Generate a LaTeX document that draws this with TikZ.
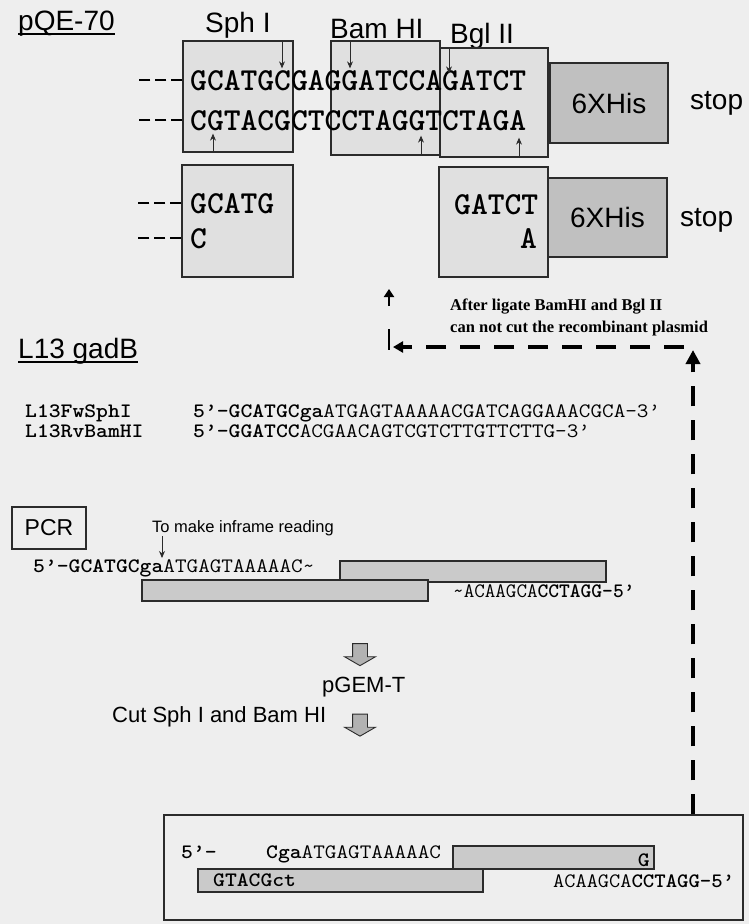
\documentclass[tikz,border=0pt]{standalone}
\usepackage{fontspec}
\setmainfont{Liberation Sans}
\newfontfamily\notefont{Liberation Serif}
\usetikzlibrary{arrows.meta,shapes.arrows}

\definecolor{paper}{HTML}{EEEEEE}
\definecolor{sitegray}{HTML}{E0E0E0}
\definecolor{hisgray}{HTML}{C0C0C0}
\definecolor{bargray}{HTML}{CACACA}
\definecolor{ink}{HTML}{2B2B2B}

\newcommand{\seqbig}{\ttfamily\bfseries\fontsize{32}{34}\selectfont}
\newcommand{\seqsmall}{\ttfamily\fontsize{20.5}{23}\selectfont}
\newcommand{\widen}[2][1.1]{\scalebox{#1}[1]{#2}}

\tikzset{
  sitebox/.style={draw=ink, line width=1.3pt, fill=sitegray, inner sep=0pt},
  hisbox/.style={draw=ink, line width=1.3pt, fill=hisgray, inner sep=0pt, font=\fontsize{28}{30}\selectfont},
  pcrbar/.style={draw=ink, line width=1.2pt, fill=bargray, inner sep=0pt},
  seqtop/.style={anchor=base west, inner sep=0pt, font=\seqbig},
  seqline/.style={anchor=base west, inner sep=0pt, font=\seqsmall},
  label/.style={anchor=base west, inner sep=0pt, font=\fontsize{28}{30}\selectfont},
  cutmark/.style={-{Stealth[length=7pt,width=6pt]}, line width=0.9pt, draw=ink},
  stub/.style={line width=2.2pt, dash pattern=on 11pt off 5pt},
  stepdown/.style={shape=single arrow, draw=ink, line width=0.9pt, fill=gray!60,
    shape border rotate=270, minimum height=22pt, single arrow head extend=8pt,
    single arrow tip angle=120, inner sep=7pt},
  backpath/.style={line width=4pt, dash pattern=on 20pt off 14pt}
}

\begin{document}
\begin{tikzpicture}[x=1pt, y=-1pt]
  \fill[paper] (0,0) rectangle (749,924);
  \useasboundingbox (0,0) rectangle (749,924);

  % pQE-70 vector
  \node[label] (pqe) at (18,30) {pQE-70};
  \draw[line width=1.8pt] ([yshift=-4pt]pqe.base west) -- ([yshift=-4pt]pqe.base east);
  \node[label] (sphlab) at (205,32) {Sph I};
  \node[label] (bamlab) at (330,38) {Bam HI};
  \node[label] (bgllab) at (450,43) {Bgl II};

  % restriction sites
  \node[sitebox, minimum width=110pt, minimum height=111pt] (sph) at (238,96.5) {};
  \node[sitebox, minimum width=109pt, minimum height=114pt] (bam) at (385.5,98) {};
  \node[sitebox, minimum width=108pt, minimum height=109pt] (bgl) at (494,102.5) {};
  \node[hisbox, minimum width=118pt, minimum height=80pt] (his) at (609,103) {6XHis};
  \node[label, anchor=west] (stop) at (690,103) {stop};

  \node[seqtop] (topstrand) at (190,90) {GCATGCGAGGATCCAGATCT};
  \node[seqtop] (botstrand) at (190,130) {CGTACGCTCCTAGGTCTAGA};
  \draw[stub] (sph.west |- 0,80) -- ++(-45,0);
  \draw[stub] (sph.west |- 0,120) -- ++(-45,0);

  % cut positions
  \draw[cutmark] (sph.north -| 282,0) -- ++(0,28);
  \draw[cutmark] (sph.south -| 213,0) -- ++(0,-19);
  \draw[cutmark] (bam.north -| 350,0) -- ++(0,28);
  \draw[cutmark] (bam.south -| 421,0) -- ++(0,-20);
  \draw[cutmark] (bgl.north -| 449,0) -- ++(0,26);
  \draw[cutmark] (bgl.south -| 519,0) -- ++(0,-20);

  % cut vector
  \node[sitebox, minimum width=111pt, minimum height=112pt] (sphcut) at (237.5,221) {};
  \node[seqtop] (sphtop) at (190,213) {GCATG};
  \node[seqtop] (sphbot) at (190,248) {C};
  \draw[stub] (sphcut.west |- 0,203) -- ++(-45,0);
  \draw[stub] (sphcut.west |- 0,238) -- ++(-45,0);

  \node[sitebox, minimum width=109pt, minimum height=110pt] (bglcut) at (493.5,222) {};
  \node[hisbox, minimum width=119pt, minimum height=79pt] (hiscut) at (607.5,217.5) {6XHis};
  \node[label, anchor=west] (stopcut) at (680,220) {stop};
  \node[seqtop] (bgltop) at (454,214) {GATCT};
  \node[seqtop, anchor=base east] (bglbot) at (537,248) {A};

  % ligation note
  \coordinate (uptail) at (389,306);
  \coordinate (uphead) at (389,289);
  \draw[-{Triangle[length=8pt,width=10pt]}, line width=2.6pt] (uptail) -- (uphead);
  \node[anchor=north west, align=left, inner sep=0pt,
    font=\notefont\bfseries\fontsize{16.5}{22}\selectfont] (ligate) at (450,299)
    {After ligate BamHI and Bgl II\\can not cut the recombinant plasmid};

  % L13 gadB
  \node[label] (gadb) at (18,358) {L13 gadB};
  \draw[line width=1.8pt] ([yshift=-4pt]gadb.base west) -- ([yshift=-4pt]gadb.base east);

  \node[seqline, font=\seqsmall\bfseries] (fwname) at (25,417) {\widen{L13FwSphI}};
  \node[seqline] (fwseq) at (193,417) {\widen{\textbf{5’-GCATGCga}ATGAGTAAAAACGATCAGGAAACGCA-3’}};
  \node[seqline, font=\seqsmall\bfseries] (rvname) at (25,437) {\widen{L13RvBamHI}};
  \node[seqline] (rvseq) at (193,437) {\widen{\textbf{5’-GGATCC}ACGAACAGTCGTCTTGTTCTTG-3’}};

  % PCR
  \node[draw=ink, line width=1.3pt, inner sep=0pt, minimum width=74pt, minimum height=42pt,
    font=\fontsize{23}{25}\selectfont] (pcr) at (49,528) {PCR};
  \node[anchor=base west, inner sep=0pt, font=\fontsize{16.5}{18}\selectfont] (inframe) at (152,532) {To make inframe reading};
  \coordinate (frametail) at (162,536);
  \coordinate (framehead) at (162,558);
  \draw[cutmark] (frametail) -- (framehead);

  \node[pcrbar, minimum width=266pt, minimum height=21pt] (fwbar) at (473,571.5) {};
  \node[pcrbar, minimum width=286pt, minimum height=21pt] (rvbar) at (285,590.5) {};
  \node[seqline] (pcrfw) at (33,572) {\widen{\textbf{5’-GCATGCga}ATGAGTAAAAAC\textasciitilde}};
  \node[seqline] (pcrrv) at (453,597) {\textasciitilde ACAAGCA\textbf{CCTAGG-5’}};

  \node[stepdown] (down1) at (360,652.5) {};
  \node[anchor=base west, inner sep=0pt, font=\fontsize{22}{24}\selectfont] (pgem) at (322,692) {pGEM-T};
  \node[anchor=base west, inner sep=0pt, font=\fontsize{22}{24}\selectfont] (cutlab) at (112,722) {Cut Sph I and Bam HI};
  \node[stepdown] (down2) at (360,723) {};

  % insert
  \node[draw=ink, line width=1.5pt, fill=paper, inner sep=0pt, minimum width=579pt, minimum height=105pt] (insert) at (453.5,867.5) {};
  \node[pcrbar, minimum width=201pt, minimum height=23pt] (insfw) at (553.5,857.5) {};
  \node[pcrbar, minimum width=285pt, minimum height=23pt] (insrv) at (340.5,880.5) {};
  \node[seqline, font=\seqsmall\bfseries] (insfive) at (181,858) {\widen{5’-}};
  \node[seqline] (insfwseq) at (266,858) {\widen{\textbf{Cga}ATGAGTAAAAAC}};
  \node[seqline, anchor=base east, font=\seqsmall\bfseries] (insg) at (650,866) {\widen{G}};
  \node[seqline, font=\seqsmall\bfseries] (insrvseq) at (213,886) {\widen{GTACGct}};
  \node[seqline] (insend) at (553,887) {\widen[1.06]{ACAAGCA\textbf{CCTAGG-5’}}};

  % way back to the vector
  \coordinate (backturn) at (693,350);
  \draw[backpath, -{Triangle[length=14pt,width=14pt]}] (insert.north -| backturn) -- (backturn);
  \coordinate (backleft) at (393,347);
  \draw[backpath, -{Triangle[length=10pt,width=11pt]}] (684,347) -- (backleft);
  \draw[line width=2.6pt] (389,329) -- (389,350);
\end{tikzpicture}
\end{document}
